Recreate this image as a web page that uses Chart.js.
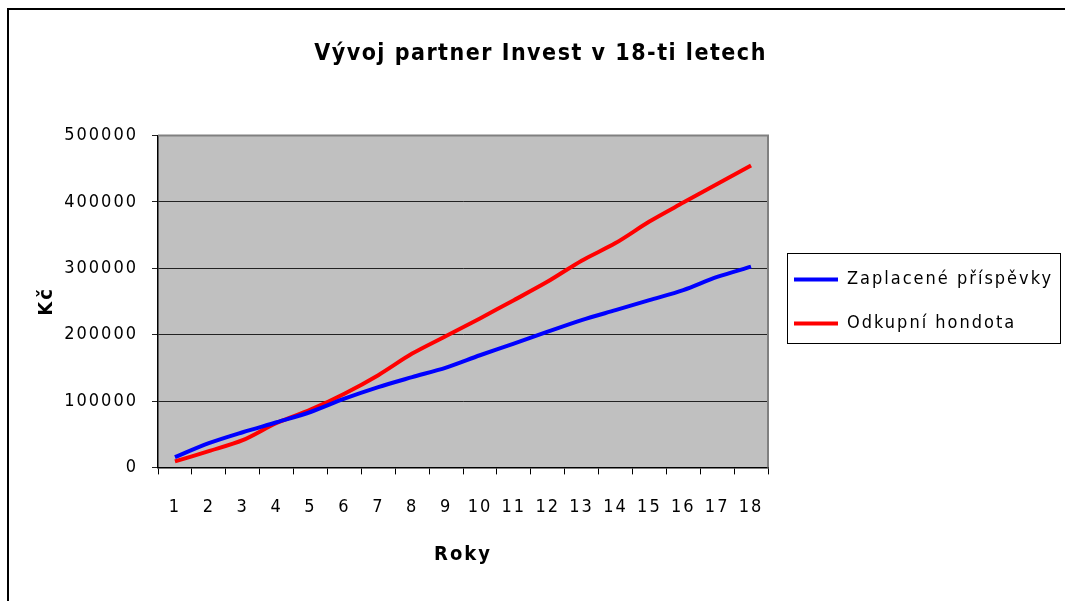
<!DOCTYPE html>
<html>
<head>
<meta charset="utf-8">
<script src="https://cdn.jsdelivr.net/npm/chart.js@4.4.1/dist/chart.umd.min.js"></script>
<style>
    html, body { margin: 0; padding: 0; background: #fff; }
    #wrap { position: relative; width: 1065px; height: 601px; overflow: hidden; }
    #frame { position: absolute; left: 7px; top: 8px; width: 1200px; height: 700px;
        border-left: 2px solid #000; border-top: 2px solid #000; }
    canvas { position: absolute; left: 0; top: 0; }
</style>
</head>
<body>
<div id="wrap">
    <div id="frame"></div>
    <canvas id="investChart" width="1065" height="601"></canvas>
</div>
<script>
    const years = ["1", "2", "3", "4", "5", "6", "7", "8", "9", "10", "11", "12", "13", "14", "15", "16", "17", "18"];
    const zaplacene = [15500, 36500, 53000, 68000, 83500, 103500, 121000, 136000, 150500, 169000, 186500, 204500, 222000, 237000, 252000, 267000, 287000, 302500];
    const odkupni = [9000, 24500, 41000, 67000, 87000, 111000, 139000, 171500, 198000, 224500, 252000, 280000, 311500, 338000, 370500, 399000, 427000, 455000];
    const yTicks = [0, 100000, 200000, 300000, 400000, 500000];

    const fontFamily = "'Liberation Sans Narrow', 'Arial Narrow', 'DejaVu Sans Condensed', sans-serif";
    const LEGEND_WIDTH = 297;

    // spaced-out lettering like the original
    const spacing = {
        id: "spacing",
        beforeInit(chart) { chart.ctx.letterSpacing = "2px"; },
        afterInit(chart) {
            // title a bit tighter than the rest
            const title = chart.titleBlock;
            const titleDraw = title.draw.bind(title);
            title.draw = function (area) {
                const c = chart.ctx;
                c.letterSpacing = "1.5px";
                titleDraw(area);
                c.letterSpacing = "2px";
            };
            // fixed legend column width (also keeps the text from being clipped)
            const legend = chart.legend;
            const legendFit = legend.fit.bind(legend);
            legend.fit = function () {
                legendFit();
                this.width = LEGEND_WIDTH;
            };
        },
        beforeUpdate(chart) { chart.ctx.letterSpacing = "2px"; },
        beforeDraw(chart) { chart.ctx.letterSpacing = "2px"; }
    };

    // grey plot background, plot frame and legend frame
    const plotArea = {
        id: "plotArea",
        beforeDraw(chart) {
            const a = chart.chartArea;
            const c = chart.ctx;
            c.save();
            c.fillStyle = "#C0C0C0";
            c.fillRect(a.left, a.top, a.right - a.left, a.bottom - a.top);
            c.restore();
        },
        afterDraw(chart) {
            const a = chart.chartArea;
            const c = chart.ctx;
            c.save();
            c.strokeStyle = "#808080";
            c.lineWidth = 2;
            c.beginPath();
            c.moveTo(a.left, a.top);
            c.lineTo(a.right, a.top);
            c.lineTo(a.right, a.bottom);
            c.stroke();

            const boxes = chart.legend.legendHitBoxes;
            if (boxes && boxes.length) {
                const first = boxes[0];
                const last = boxes[boxes.length - 1];
                const left = Math.round(first.left - 7);
                const top = Math.round(first.top + first.height / 2 - 27);
                const bottom = Math.round(last.top + last.height / 2 + 19);
                c.strokeStyle = "#000";
                c.lineWidth = 1;
                c.strokeRect(left + 0.5, top + 0.5, 273, bottom - top);
            }
            c.restore();
        }
    };

    const ctx = document.getElementById("investChart").getContext("2d");

    new Chart(ctx, {
        type: "line",
        data: {
            labels: years,
            datasets: [
                {
                    label: "Zaplacené příspěvky",
                    data: zaplacene,
                    borderColor: "#0000FF",
                    backgroundColor: "#0000FF",
                    borderWidth: 4,
                    pointRadius: 0,
                    tension: 0.3
                },
                {
                    label: "Odkupní hondota",
                    data: odkupni,
                    borderColor: "#FF0000",
                    backgroundColor: "#FF0000",
                    borderWidth: 4,
                    pointRadius: 0,
                    tension: 0.3
                }
            ]
        },
        options: {
            responsive: false,
            animation: false,
            layout: { padding: { left: 16, right: 0, top: 40, bottom: 34 } },
            plugins: {
                title: {
                    display: true,
                    text: "Vývoj partner Invest v 18-ti letech",
                    color: "#000",
                    font: { family: fontFamily, size: 23, weight: "bold" },
                    padding: { top: 0, bottom: 68 }
                },
                legend: {
                    position: "right",
                    fullSize: false,
                    labels: {
                        color: "#000",
                        font: { family: fontFamily, size: 18 },
                        boxWidth: 44,
                        boxHeight: 4,
                        padding: 26,
                        generateLabels: function (chart) {
                            return Chart.defaults.plugins.legend.labels.generateLabels(chart)
                                .map(l => Object.assign(l, { lineWidth: 0, fillStyle: l.strokeStyle }));
                        }
                    }
                },
                tooltip: { enabled: false }
            },
            scales: {
                x: {
                    offset: true,
                    grid: { display: true, drawOnChartArea: false, offset: true, color: "#000", tickLength: 7 },
                    border: { color: "#000", width: 1.5 },
                    ticks: { color: "#000", font: { family: fontFamily, size: 18 }, padding: 22, maxRotation: 0, autoSkip: false },
                    title: {
                        display: true, text: "Roky", color: "#000",
                        font: { family: fontFamily, size: 20, weight: "bold" },
                        padding: { top: 3, bottom: 0 }
                    }
                },
                y: {
                    min: yTicks[0],
                    max: yTicks[yTicks.length - 1],
                    afterBuildTicks: function (axis) { axis.ticks = yTicks.map(v => ({ value: v })); },
                    afterFit: function (axis) { axis.width = 142; },
                    grid: { color: "#222", tickLength: 6 },
                    border: { color: "#000", width: 1.5 },
                    ticks: { color: "#000", font: { family: fontFamily, size: 18 }, padding: 14,
                        callback: v => String(v) },
                    title: {
                        display: true, text: "Kč", color: "#000",
                        font: { family: fontFamily, size: 20, weight: "bold" },
                        padding: { top: 19, bottom: 0 }
                    }
                }
            }
        },
        plugins: [spacing, plotArea]
    });
</script>
</body>
</html>
